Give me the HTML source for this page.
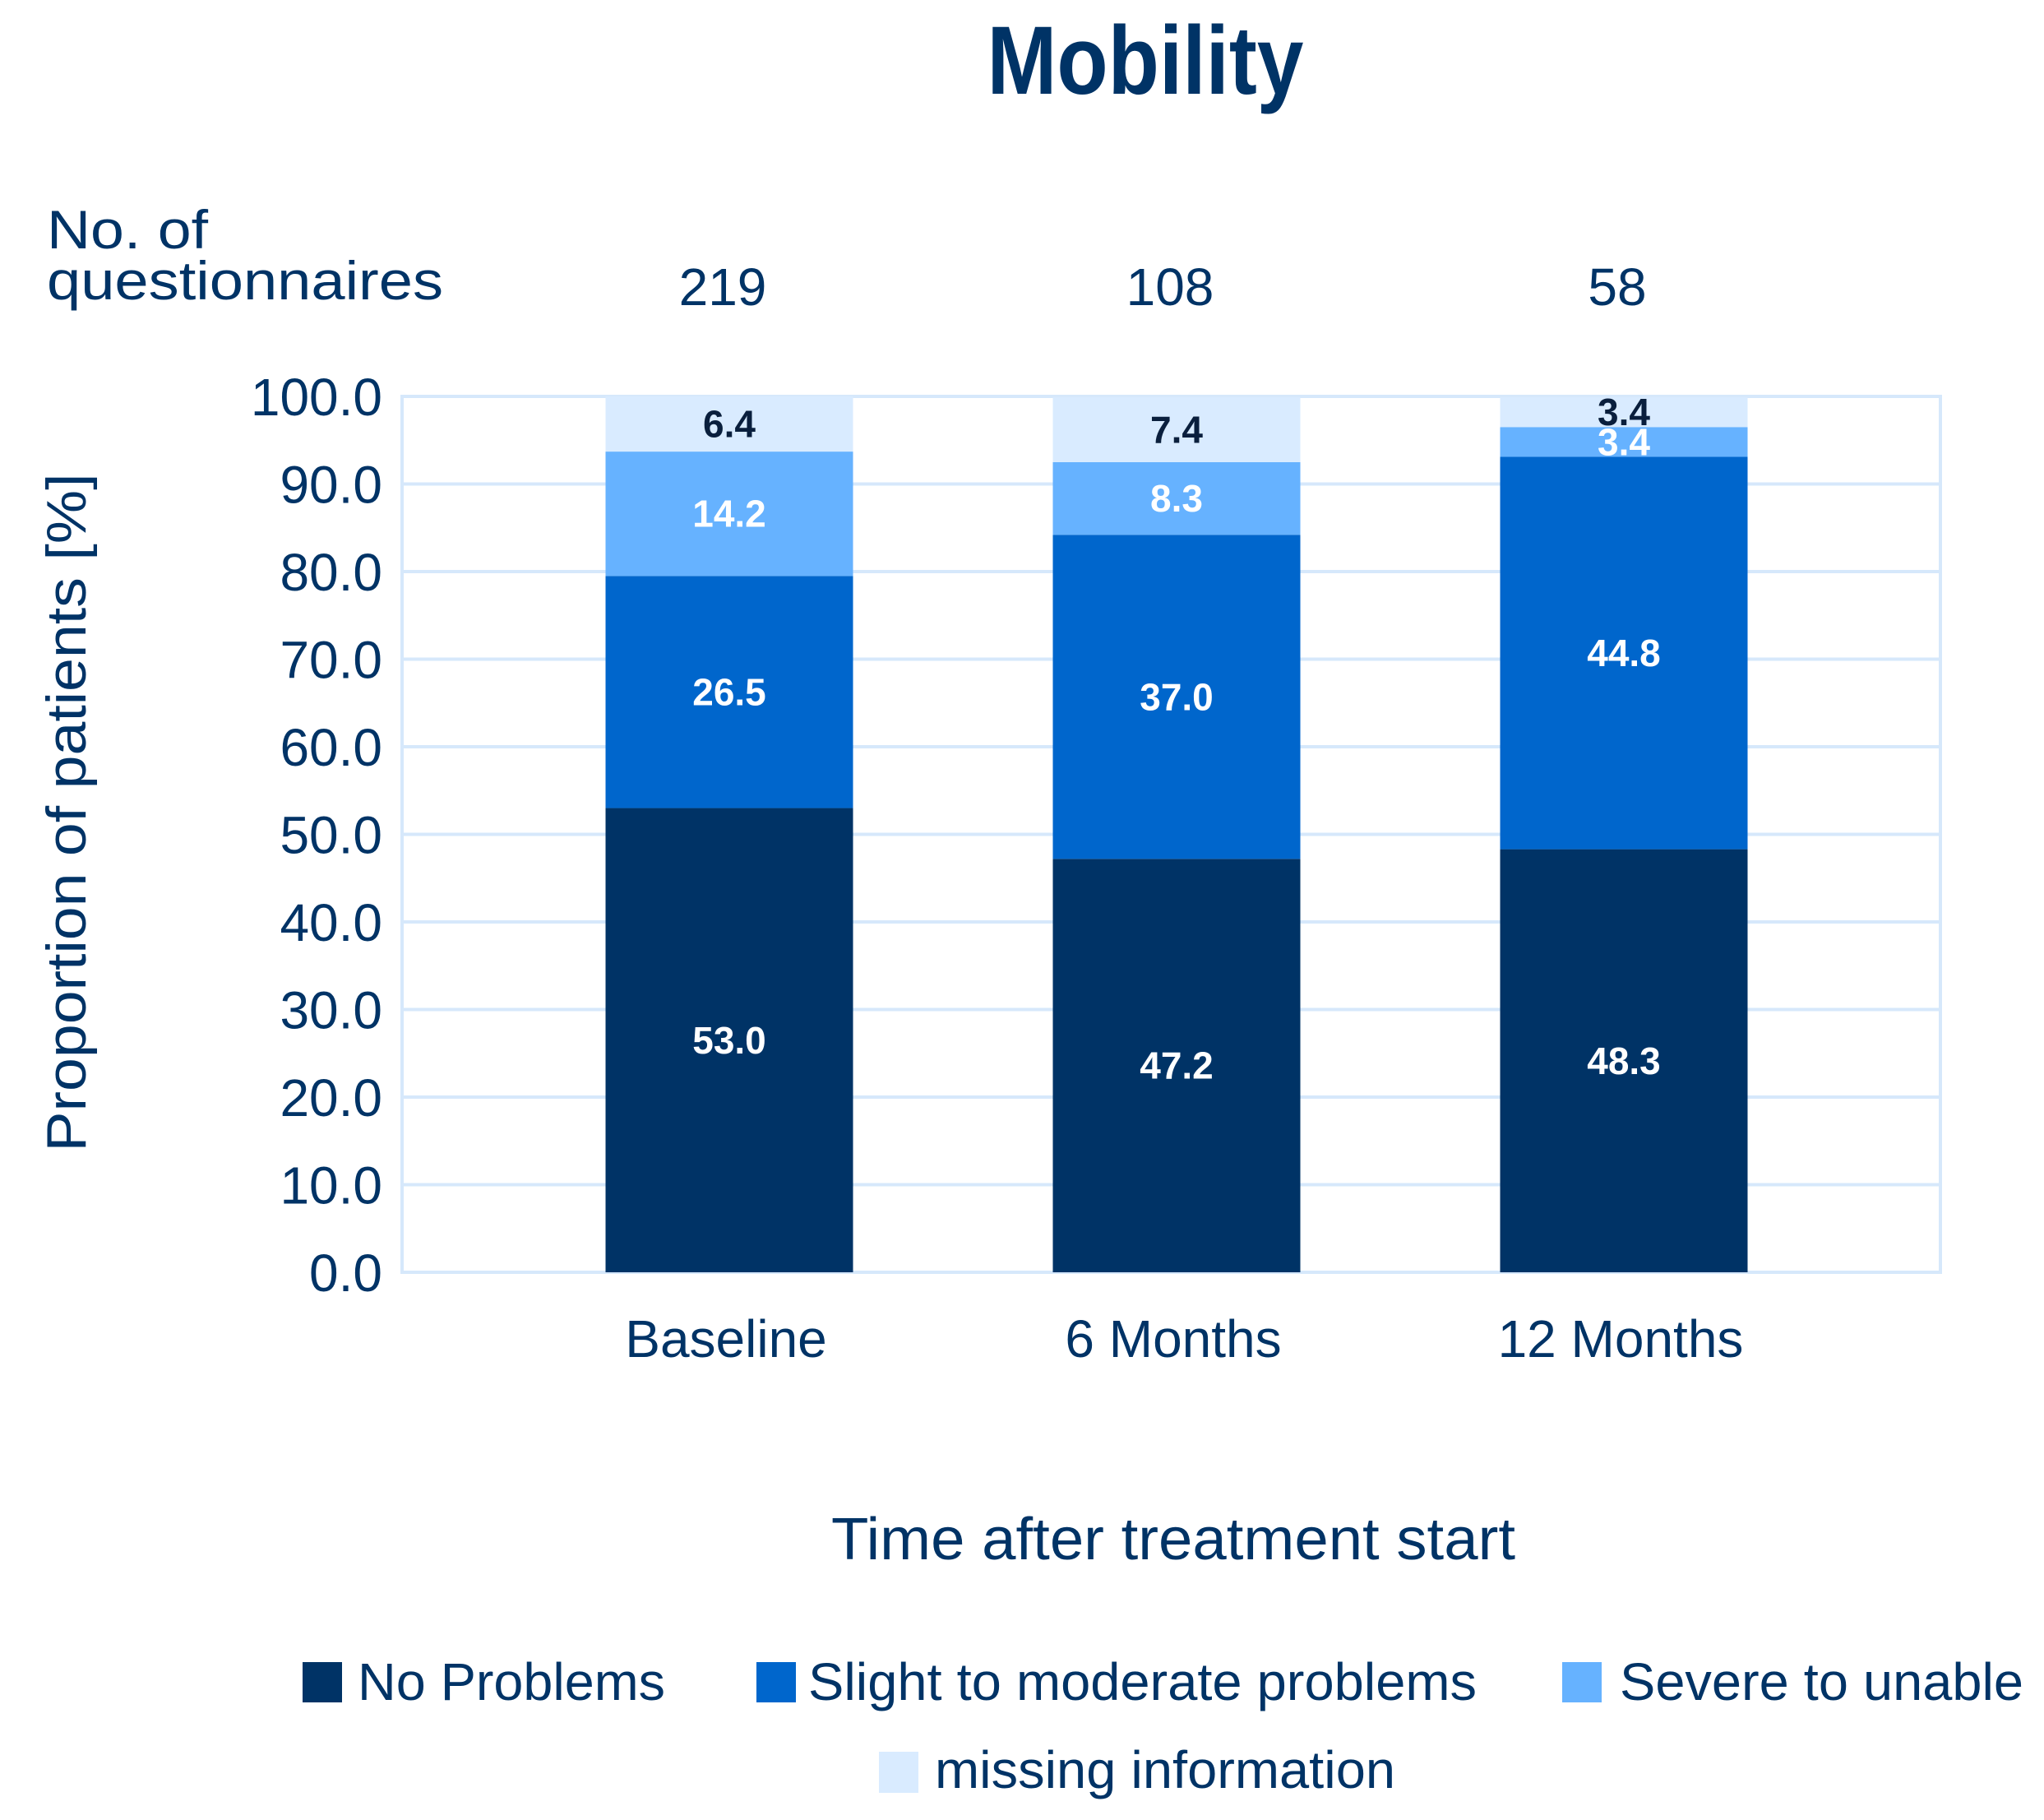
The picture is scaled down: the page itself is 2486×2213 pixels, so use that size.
<!DOCTYPE html>
<html><head><meta charset="utf-8"><style>
html,body{margin:0;padding:0;background:#fff}
svg{display:block}
text{font-family:"Liberation Sans",sans-serif;fill:#003366}
</style></head><body>
<svg id="chart" width="2486" height="2213" viewBox="0 0 2486 2213" xmlns="http://www.w3.org/2000/svg">
<text x="1393" y="114" font-size="118" font-weight="bold" text-anchor="middle" textLength="385" lengthAdjust="spacingAndGlyphs">Mobility</text>
<text x="57" y="302" font-size="66" textLength="196" lengthAdjust="spacingAndGlyphs">No. of</text>
<text x="57" y="364" font-size="66" textLength="482" lengthAdjust="spacingAndGlyphs">questionnaires</text>
<text transform="translate(104,988) rotate(-90)" font-size="68" text-anchor="middle" textLength="825" lengthAdjust="spacingAndGlyphs">Proportion of patients [%]</text>
<text x="1427" y="1896" font-size="72" text-anchor="middle" textLength="832" lengthAdjust="spacingAndGlyphs">Time after treatment start</text>
<g id="grid"></g>
<g id="bars"></g>
<g id="axis"></g>
<g>
<rect x="368" y="2021" width="48" height="49" fill="#003366"/>
<text x="435" y="2067" font-size="64" textLength="374" lengthAdjust="spacingAndGlyphs">No Problems</text>
<rect x="920" y="2021" width="48" height="49" fill="#0066cc"/>
<text x="983" y="2067" font-size="64" textLength="813" lengthAdjust="spacingAndGlyphs">Slight to moderate problems</text>
<rect x="1900" y="2021" width="48" height="49" fill="#66b2ff"/>
<text x="1970" y="2067" font-size="64" textLength="491" lengthAdjust="spacingAndGlyphs">Severe to unable</text>
<rect x="1069" y="2130" width="48" height="50" fill="#d9ebff"/>
<text x="1137" y="2174" font-size="64" textLength="560" lengthAdjust="spacingAndGlyphs">missing information</text>
</g>
</svg>
<script>
const categories = ["Baseline", "6 Months", "12 Months"];
const counts = ["219", "108", "58"];
const noProblems = [53.0, 47.2, 48.3];
const slight = [26.5, 37.0, 44.8];
const severe = [14.2, 8.3, 3.4];
const missing = [6.4, 7.4, 3.4];
const yTicks = [0, 10, 20, 30, 40, 50, 60, 70, 80, 90, 100];

const NS = "http://www.w3.org/2000/svg";
const plotL = 489, plotR = 2360, plotT = 482, plotB = 1547;
const yMax = 100;
function y(v){ return plotB - (v / yMax) * (plotB - plotT); }
const slotW = 544, firstCenter = 887, barW = 301;
function xc(i){ return firstCenter + i * slotW; }
function mk(tag, attrs, parent){
  const e = document.createElementNS(NS, tag);
  for (const k in attrs) e.setAttribute(k, attrs[k]);
  parent.appendChild(e); return e;
}
const grid = document.getElementById('grid');
const bars = document.getElementById('bars');
const axis = document.getElementById('axis');

yTicks.forEach(t => {
  const l = mk('line', {x1: plotL, x2: plotR, y1: y(t), y2: y(t), stroke: '#d6e8fb', 'stroke-width': 4}, grid);
  
  
  const tx = mk('text', {x: 465, y: y(t) + 23, 'font-size': 64, 'text-anchor': 'end'}, axis);
  tx.textContent = t.toFixed(1);
  
  
});
const fr = mk('rect', {x: plotL, y: plotT, width: plotR - plotL, height: plotB - plotT, fill: 'none', stroke: '#d6e8fb', 'stroke-width': 4}, grid);



const series = [
  {vals: noProblems, color: '#003366', txt: '#ffffff', name: 'no-problems'},
  {vals: slight, color: '#0066cc', txt: '#ffffff', name: 'slight'},
  {vals: severe, color: '#66b2ff', txt: '#ffffff', name: 'severe'},
  {vals: missing, color: '#d9ebff', txt: '#0a1f3d', name: 'missing'}
];
categories.forEach((c, i) => {
  let base = 0;
  series.forEach(s => {
    const v = s.vals[i];
    const top = Math.min(base + v, yMax);
    const r = mk('rect', {x: xc(i) - barW / 2, y: y(top), width: barW, height: y(base) - y(top), fill: s.color}, bars);
    
    
    const lbl = mk('text', {x: xc(i), y: (y(base) + y(top)) / 2 + 16, 'font-size': 46, 'font-weight': 'bold', 'text-anchor': 'middle'}, bars);
    lbl.style.fill = s.txt;
    lbl.textContent = v.toFixed(1);
    
    
    base += v;
  });
  const cl = mk('text', {x: xc(i) - 4, y: 1650, 'font-size': 64, 'text-anchor': 'middle'}, axis);
  cl.textContent = c;
  
  
  const n = mk('text', {x: xc(i) - 8, y: 371, 'font-size': 64, 'text-anchor': 'middle'}, axis);
  n.textContent = counts[i];
  
  
});
</script>
</body></html>
